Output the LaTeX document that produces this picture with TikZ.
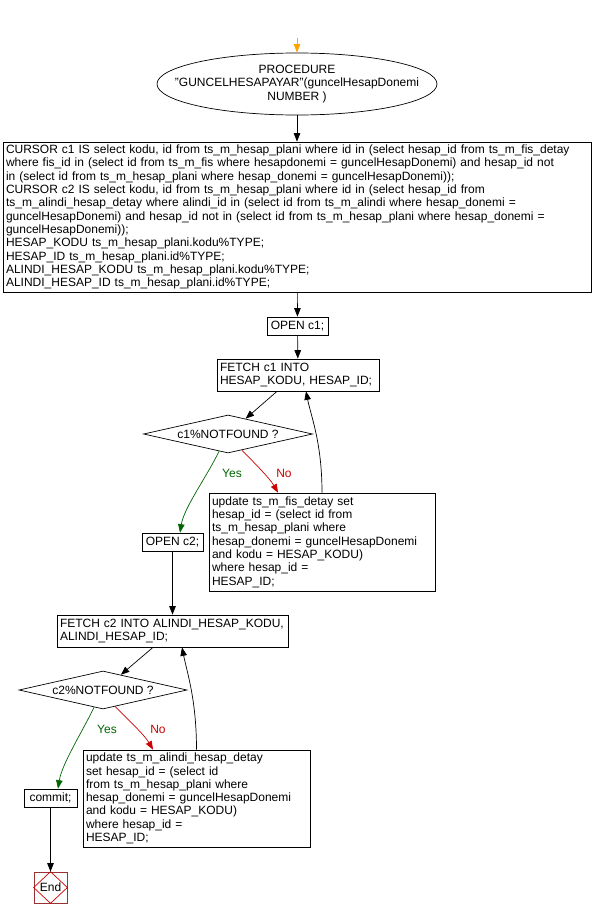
\documentclass[tikz,border=0pt]{standalone}
\usepackage{fontspec}
\setmainfont{Liberation Sans}
\usetikzlibrary{arrows.meta,positioning,shapes.geometric}
\definecolor{yesc}{HTML}{006600}
\definecolor{noc}{HTML}{CC0000}
\definecolor{startc}{HTML}{FFA500}
\definecolor{endc}{HTML}{993333}
\tikzset{
  box/.style={draw,rectangle,inner xsep=3pt,inner ysep=0pt,align=left},
  test/.style={draw,diamond,aspect=4.45,inner sep=0pt,minimum width=169pt,minimum height=38pt},
  arr/.style={-{Triangle[length=8.5pt,width=6.5pt]}},
}

\begin{document}
\begin{tikzpicture}[x=1pt,y=-1pt,font=\fontsize{12}{13.3}\selectfont,line width=.7pt]
\fill[white] (0,0) rectangle (593,918);
\coordinate (start) at (297,38);
\node[ellipse,draw,minimum width=280pt,minimum height=62pt,inner xsep=-26pt,inner ysep=1pt,align=center] (proc) at (297,84) {PROCEDURE\\"GUNCELHESAPAYAR"(guncelHesapDonemi\\NUMBER )};
\node[box,text width=582pt,minimum height=150pt] (decl) at (297,217) {CURSOR c1 IS select kodu, id from ts\_m\_hesap\_plani where id in (select hesap\_id from ts\_m\_fis\_detay\\
where fis\_id in (select id from ts\_m\_fis where hesapdonemi = guncelHesapDonemi) and hesap\_id not\\
in (select id from ts\_m\_hesap\_plani where hesap\_donemi = guncelHesapDonemi));\\
CURSOR c2 IS select kodu, id from ts\_m\_hesap\_plani where id in (select hesap\_id from\\
ts\_m\_alindi\_hesap\_detay where alindi\_id in (select id from ts\_m\_alindi where hesap\_donemi =\\
guncelHesapDonemi) and hesap\_id not in (select id from ts\_m\_hesap\_plani where hesap\_donemi =\\
guncelHesapDonemi));\\
HESAP\_KODU ts\_m\_hesap\_plani.kodu\%TYPE;\\
HESAP\_ID ts\_m\_hesap\_plani.id\%TYPE;\\
ALINDI\_HESAP\_KODU ts\_m\_hesap\_plani.kodu\%TYPE;\\
ALINDI\_HESAP\_ID ts\_m\_hesap\_plani.id\%TYPE;};
% first cursor loop
\node[box,minimum width=61pt,minimum height=18pt] (open1) at (297.5,326) {OPEN c1;};
\node[box,text width=156pt,minimum height=32pt] (fetch1) at (298,375) {FETCH c1 INTO\\HESAP\_KODU, HESAP\_ID;};
\node[test] (dia1) at (228,434) {c1\%NOTFOUND ?};
\node[box,text width=220pt,minimum height=98pt] (upd1) at (322,542) {update ts\_m\_fis\_detay set\\hesap\_id = (select id from\\ts\_m\_hesap\_plani where\\hesap\_donemi = guncelHesapDonemi\\and kodu = HESAP\_KODU)\\where hesap\_id =\\HESAP\_ID;};
\node[box,minimum width=61pt,minimum height=18pt] (open2) at (172.5,542) {OPEN c2;};
\node[yesc] (yes1) at (232,473) {Yes};\node[noc] (no1) at (284,473) {No};
% second cursor loop
\node[box,text width=225pt,minimum height=32pt] (fetch2) at (172.5,631) {FETCH c2 INTO ALINDI\_HESAP\_KODU,\\ALINDI\_HESAP\_ID;};
\node[test,minimum width=168pt] (dia2) at (103,690) {c2\%NOTFOUND ?};
\node[box,text width=221pt,minimum height=97pt] (upd2) at (196.5,798.5) {update ts\_m\_alindi\_hesap\_detay\\set hesap\_id = (select id\\from ts\_m\_hesap\_plani where\\hesap\_donemi = guncelHesapDonemi\\and kodu = HESAP\_KODU)\\where hesap\_id =\\HESAP\_ID;};
\node[box,minimum width=53pt,minimum height=18pt] (commit) at (50.5,798) {commit;};
\node[yesc] (yes2) at (107,729) {Yes};\node[noc] (no2) at (158,729) {No};
\node[draw=endc,minimum width=33pt,minimum height=31pt,inner sep=0pt] (stop) at (50.5,887.5) {End};
\draw[noc] (stop.north)--(stop.east)--(stop.south)--(stop.west)--cycle;
% connectors
\draw[arr,startc] (start) -- (proc);
\draw[arr] (proc) -- (decl);\draw[arr] (decl) -- (open1);\draw[arr] (open1) -- (fetch1);
\draw[arr] ([xshift=-21pt]fetch1.south) -- (dia1);
\draw[arr,yesc] ([shift={(-9,-2)}]dia1.south) .. controls +(-12,25) and +(4,-25) .. ([xshift=7.5pt]open2.north);
\draw[arr,noc] ([shift={(14,-3)}]dia1.south) .. controls +(12,12) and +(-8,-14) .. ([xshift=-44pt]upd1.north);
\draw[arr] (upd1.north) .. controls +(0,-50) and +(5,25) .. ([xshift=8pt]fetch1.south);
\draw[arr] (open2) -- (fetch2);
\draw[arr] ([xshift=-19.5pt]fetch2.south) -- (dia2);
\draw[arr,yesc] ([shift={(-9,-2)}]dia2.south) .. controls +(-12,25) and +(4,-25) .. ([xshift=7.5pt]commit.north);
\draw[arr,noc] ([shift={(12,-3)}]dia2.south) .. controls +(12,12) and +(-8,-14) .. ([xshift=-43.5pt]upd2.north);
\draw[arr] (upd2.north) .. controls +(0,-50) and +(5,25) .. ([xshift=9.5pt]fetch2.south);
\draw[arr] (commit) -- (stop);
\end{tikzpicture}
\end{document}
